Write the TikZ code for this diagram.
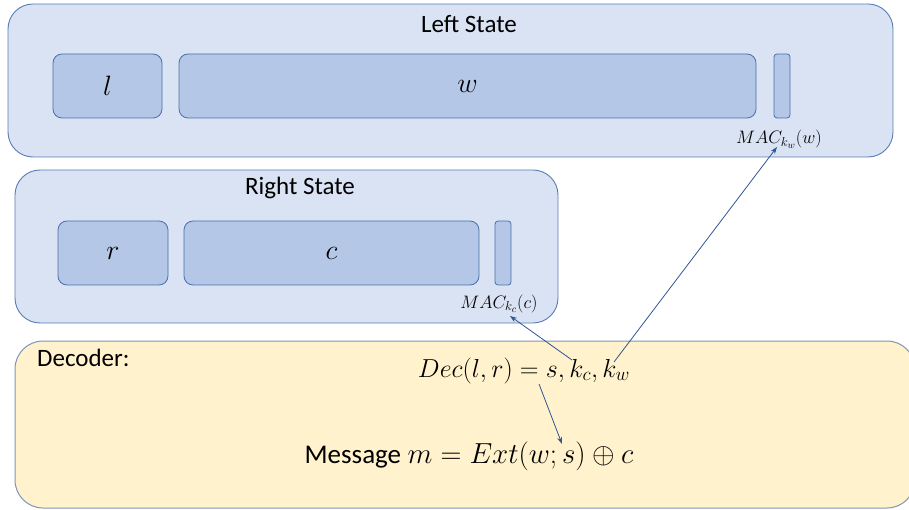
\RequirePackage{fix-cm}
\documentclass[tikz,border=0pt]{standalone}
\usepackage{fontspec}
\setmainfont{Carlito}
\usetikzlibrary{arrows.meta}
\DeclareMathSizes{18}{18}{13}{10}
\DeclareMathSizes{26}{26}{19}{14}
\DeclareMathSizes{28}{28}{20}{15}
\DeclareMathSizes{29}{29}{21}{15}
\definecolor{outerfill}{HTML}{DAE3F3}
\definecolor{outerdraw}{HTML}{5A7BB5}
\definecolor{innerfill}{HTML}{B4C7E7}
\definecolor{innerdraw}{HTML}{4A6FAE}
\definecolor{decfill}{HTML}{FFF2CC}
\definecolor{decdraw}{HTML}{7F95B8}
\definecolor{arrowc}{HTML}{2F5597}
\begin{document}
\begin{tikzpicture}[x=1pt,y=-1pt,
  statebox/.style={draw=outerdraw, fill=outerfill, line width=0.9pt, rounded corners=25pt, inner sep=0pt},
  cellbox/.style={draw=innerdraw, fill=innerfill, line width=0.8pt, rounded corners=9pt, inner sep=0pt, minimum height=64pt, font=\fontsize{28}{30}\selectfont},
  macbar/.style={draw=innerdraw, fill=innerfill, line width=0.8pt, rounded corners=3pt, inner sep=0pt, minimum width=16pt, minimum height=64pt},
  decbox/.style={draw=decdraw, fill=decfill, line width=1pt, rounded corners=28pt, inner sep=0pt},
  title/.style={font=\fontsize{25}{28}\selectfont, inner sep=0pt},
  maclabel/.style={font=\fontsize{18}{20}\selectfont, inner sep=0pt},
  conn/.style={draw=arrowc, line width=0.8pt, -{Stealth[length=7pt,width=5pt]}}
]
\useasboundingbox (0,0) rectangle (909,510);
\clip (0,0) rectangle (909,510);
% Left state
\node[statebox, minimum width=885pt, minimum height=153pt] (ls) at (450.5,80.5) {};
\node[title] (lstitle) at (469,24) {Left State};
\node[cellbox, minimum width=109pt] (l) at (107.5,86) {$l$};
\node[cellbox, minimum width=577pt] (w) at (467.5,86) {$w$};
\node[macbar] (macw) at (782,86) {};
\node[maclabel, anchor=base] (macwl) at (779,144) {$MAC_{k_w}(w)$};
% Right state
\node[statebox, minimum width=543pt, minimum height=153pt] (rs) at (286.5,246.5) {};
\node[title] (rstitle) at (300,188) {Right State};
\node[cellbox, minimum width=110pt] (r) at (113,253) {$r$};
\node[cellbox, minimum width=295pt] (c) at (331.5,253) {$c$};
\node[macbar] (macc) at (503,253) {};
\node[maclabel, anchor=base] (maccl) at (499,308) {$MAC_{k_c}(c)$};
% Decoder
\node[decbox, minimum width=900pt, minimum height=167pt] (dec) at (465,424.5) {};
\node[anchor=base west, font=\fontsize{25}{28}\selectfont, inner sep=0pt] (dectitle) at (37,366) {Decoder:};
\node[anchor=base, font=\fontsize{26}{29}\selectfont, inner sep=0pt] (decf) at (524,377) {$Dec(l,r)=s,k_c,k_w$};
\node[anchor=base, font=\fontsize{29}{32}\selectfont, inner sep=0pt] (msg) at (469,463) {{\fontsize{27}{30}\selectfont Message} $m=Ext(w;s)\oplus c$};
% connector end points
\coordinate (kw) at (614,362);
\coordinate (kc) at (572,360);
\coordinate (s) at (539,384);
\coordinate (kwtip) at (777,147);
\coordinate (kctip) at (510,316);
\coordinate (stip) at (562,444);
\draw[conn] (kw) -- (kwtip);
\draw[conn] (kc) -- (kctip);
\draw[conn] (s) -- (stip);
\end{tikzpicture}
\end{document}
